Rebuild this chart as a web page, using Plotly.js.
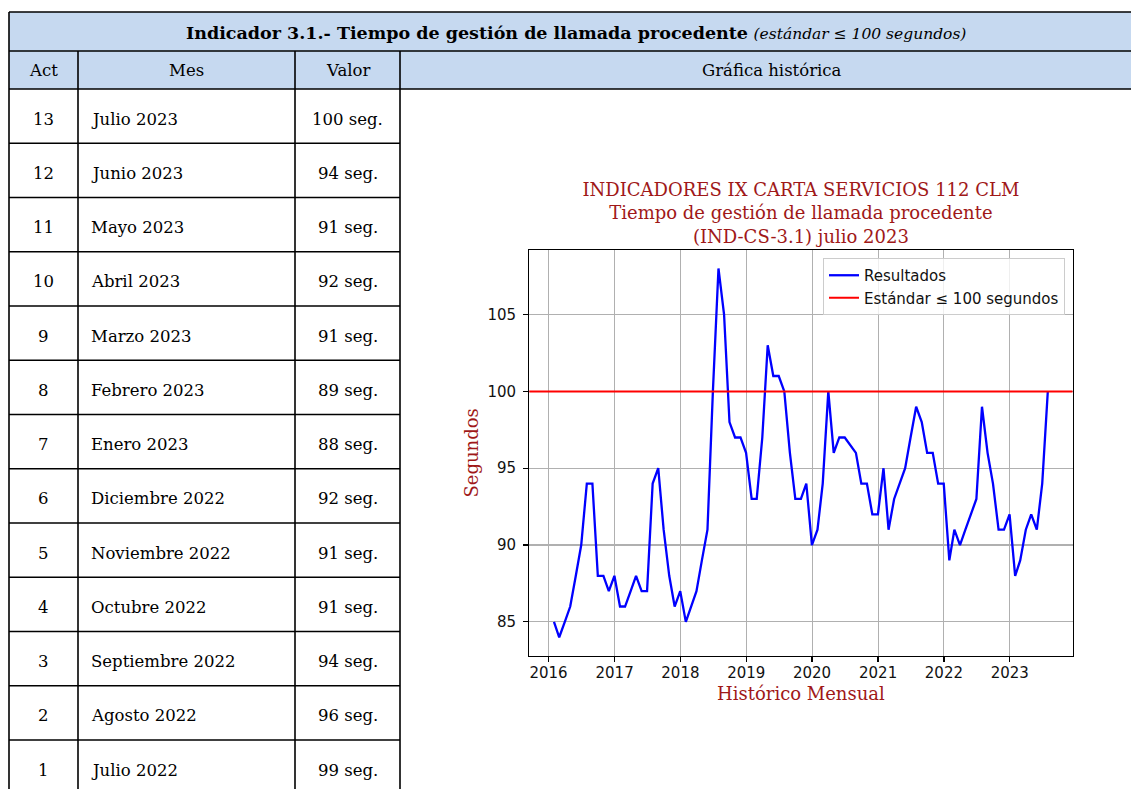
<!DOCTYPE html>
<html>
<head>
<meta charset="utf-8">
<script src="https://cdn.plot.ly/plotly-3.0.1.min.js"></script>
<style>html,body{margin:0;padding:0;overflow:hidden;background:#fff}</style>
</head>
<body>
<div id="chart" style="width:1131px;height:789px"></div>
<script>
// ---------- Chart data (monthly results, seconds) ----------
const anios = [2016, 2017, 2018, 2019, 2020, 2021, 2022, 2023];
const res2016 = [85, 84, 85, 86, 88, 90, 94, 94, 88, 88, 87, 88];
const res2017 = [86, 86, 87, 88, 87, 87, 94, 95, 91, 88, 86, 87];
const res2018 = [85, 86, 87, 89, 91, 100, 108, 105, 98, 97, 97, 96];
const res2019 = [93, 93, 97, 103, 101, 101, 100, 96, 93, 93, 94, 90];
const res2020 = [91, 94, 100, 96, 97, 97, 96.5, 96, 94, 94, 92, 92];
const res2021 = [95, 91, 93, 94, 95, 97, 99, 98, 96, 96, 94, 94];
const res2022 = [89, 91, 90, 91, 92, 93, 99, 96, 94, 91, 91, 92];
const res2023 = [88, 89, 91, 92, 91, 94, 100];
const estandar = 100;
const yTicks = [85, 90, 95, 100, 105];

const tituloGrafica = ['INDICADORES IX CARTA SERVICIOS 112 CLM', 'Tiempo de gestión de llamada procedente', '(IND-CS-3.1) julio 2023'];
const nombreSerie = 'Resultados';
const nombreEstandar = 'Estándar ≤ 100 segundos';
const tituloX = 'Histórico Mensual';
const tituloY = 'Segundos';

// ---------- Table data ----------
const tituloTabla = 'Indicador 3.1.- Tiempo de gestión de llamada procedente';
const notaTabla = '(estándar ≤ 100 segundos)';
const cabecera = ['Act', 'Mes', 'Valor', 'Gráfica histórica'];
const act = [13, 12, 11, 10, 9, 8, 7, 6, 5, 4, 3, 2, 1];
const mes = ['Julio 2023', 'Junio 2023', 'Mayo 2023', 'Abril 2023', 'Marzo 2023', 'Febrero 2023', 'Enero 2023',
             'Diciembre 2022', 'Noviembre 2022', 'Octubre 2022', 'Septiembre 2022', 'Agosto 2022', 'Julio 2022'];
const valor = [100, 94, 91, 92, 91, 89, 88, 92, 91, 91, 94, 96, 99];

// ---------- Build series ----------
const porAnio = [res2016, res2017, res2018, res2019, res2020, res2021, res2022, res2023];
const fechas = [], valores = [];
porAnio.forEach((arr, k) => {
  arr.forEach((v, m) => {
    const d = new Date(Date.UTC(anios[k], m + 1, 0)); // month end
    fechas.push(d.toISOString().slice(0, 10));
    valores.push(v);
  });
});
const toStr = ms => new Date(ms).toISOString().slice(0, 19).replace('T', ' ');
const t0 = Date.parse(fechas[0]), t1 = Date.parse(fechas[fechas.length - 1]);
const xPad = 0.05 * (t1 - t0);
const vmin = Math.min(...valores), vmax = Math.max(...valores);
const yPad = 0.05 * (vmax - vmin);

// ---------- Geometry ----------
const W = 1131, H = 789;
const px = x => x / W, py = y => 1 - y / H;
const TL = 9, TR = 1143, T0 = 12, T1 = 51, T2 = 89, ROWH = 54.25, TB = 800;
const colX = [9, 78, 295, 400];
const HEAD_FILL = '#c6d9f0';
const SERIF = 'DejaVu Serif';
const RED = '#a01818';

const shapes = [];
const annotations = [];
shapes.push({type: 'rect', xref: 'paper', yref: 'paper', x0: px(TL), x1: px(TR), y0: py(T0), y1: py(T2),
  fillcolor: HEAD_FILL, line: {width: 0}, layer: 'below'});
const bl = {color: '#000', width: 1.6};
function hline(y, x0, x1) { shapes.push({type: 'line', xref: 'paper', yref: 'paper', x0: px(x0), x1: px(x1), y0: py(y), y1: py(y), line: bl}); }
function vline(x, y0, y1) { shapes.push({type: 'line', xref: 'paper', yref: 'paper', x0: px(x), x1: px(x), y0: py(y0), y1: py(y1), line: bl}); }
hline(T0, TL, TR); hline(T1, TL, TR); hline(T2, TL, TR);
act.forEach((a, k) => hline(T2 + (k + 1) * ROWH, colX[0], colX[3]));
vline(TL, T0, TB); vline(TR, T0, TB);
vline(colX[1], T1, TB); vline(colX[2], T1, TB); vline(colX[3], T1, TB);

const fTab = {family: SERIF, size: 16.5, color: '#000'};
function txt(text, x, y, xanchor, font) {
  annotations.push({text: text, xref: 'paper', yref: 'paper', x: px(x), y: py(y), xanchor: xanchor, yanchor: 'middle',
    showarrow: false, font: font || fTab});
}
txt('<b>' + tituloTabla + '</b> <i><span style="font-size:15.5px">' + notaTabla + '</span></i>', (TL + TR) / 2, (T0 + T1) / 2 + 1, 'center',
  {family: SERIF, size: 17.5, color: '#000'});
const headCenters = [(colX[0] + colX[1]) / 2, (colX[1] + colX[2]) / 2, (colX[2] + colX[3]) / 2, (colX[3] + TR) / 2];
cabecera.forEach((c, i) => txt(c, headCenters[i], (T1 + T2) / 2 + 1, 'center'));
act.forEach((a, k) => {
  const yc = T2 + (k + 0.5) * ROWH + 3;
  txt(String(a), headCenters[0], yc, 'center');
  txt(mes[k], colX[1] + 11, yc, 'left');
  txt(valor[k] + ' seg.', headCenters[2], yc, 'center');
});

// standard line (axhline)
shapes.push({type: 'line', xref: 'x domain', yref: 'y', x0: 0, x1: 1, y0: estandar, y1: estandar,
  line: {color: '#ff0000', width: 2}, showlegend: true, name: nombreEstandar, layer: 'above'});

// plot area
const PX0 = 529.3, PX1 = 1072.5, PY0 = 250, PY1 = 655.7;

const tickFont = {family: 'DejaVu Sans', size: 15, color: '#111'};
const layout = {
  width: W, height: H,
  margin: {l: 0, r: 0, t: 0, b: 0},
  paper_bgcolor: '#fff', plot_bgcolor: '#fff',
  showlegend: true,
  hovermode: false,
  title: {text: tituloGrafica.join('<br>'), font: {family: SERIF, size: 18, color: RED},
    x: px((PX0 + PX1) / 2), xanchor: 'center', xref: 'paper', y: py(196), yanchor: 'top', yref: 'paper'},
  xaxis: {type: 'date', domain: [px(PX0), px(PX1)], range: [toStr(t0 - xPad), toStr(t1 + xPad)],
    tickvals: anios.map(a => a + '-01-01'), ticktext: anios.map(String),
    ticks: 'outside', ticklen: 5, tickwidth: 1.2, tickcolor: '#000',
    showline: true, mirror: true, linecolor: '#000', linewidth: 1.2,
    showgrid: true, gridcolor: '#b0b0b0', gridwidth: 1.1, zeroline: false,
    tickfont: tickFont, ticklabelstandoff: -2,
    title: {text: tituloX, font: {family: SERIF, size: 18, color: RED}, standoff: 6}},
  yaxis: {domain: [py(PY1), py(PY0)], range: [vmin - yPad, vmax + yPad],
    tickvals: yTicks, ticks: 'outside', ticklen: 5, tickwidth: 1.2, tickcolor: '#000',
    showline: true, mirror: true, linecolor: '#000', linewidth: 1.2,
    showgrid: true, gridcolor: '#b0b0b0', gridwidth: 1.1, zeroline: false,
    tickfont: tickFont, ticklabelstandoff: 4,
    title: {text: tituloY, font: {family: SERIF, size: 18, color: RED}, standoff: 4}},
  legend: {x: px(1065), xanchor: 'right', y: py(258), yanchor: 'top', xref: 'paper', yref: 'paper',
    bgcolor: 'rgba(255,255,255,0.8)', bordercolor: '#cccccc', borderwidth: 1,
    font: {family: 'DejaVu Sans', size: 15, color: '#111'}},
  shapes: shapes,
  annotations: annotations
};

const traces = [{
  type: 'scatter', mode: 'lines', x: fechas, y: valores, name: nombreSerie,
  line: {color: '#0000ff', width: 2.3}, hoverinfo: 'skip'
}];

Plotly.newPlot('chart', traces, layout, {staticPlot: true, displayModeBar: false});
</script>
</body>
</html>
